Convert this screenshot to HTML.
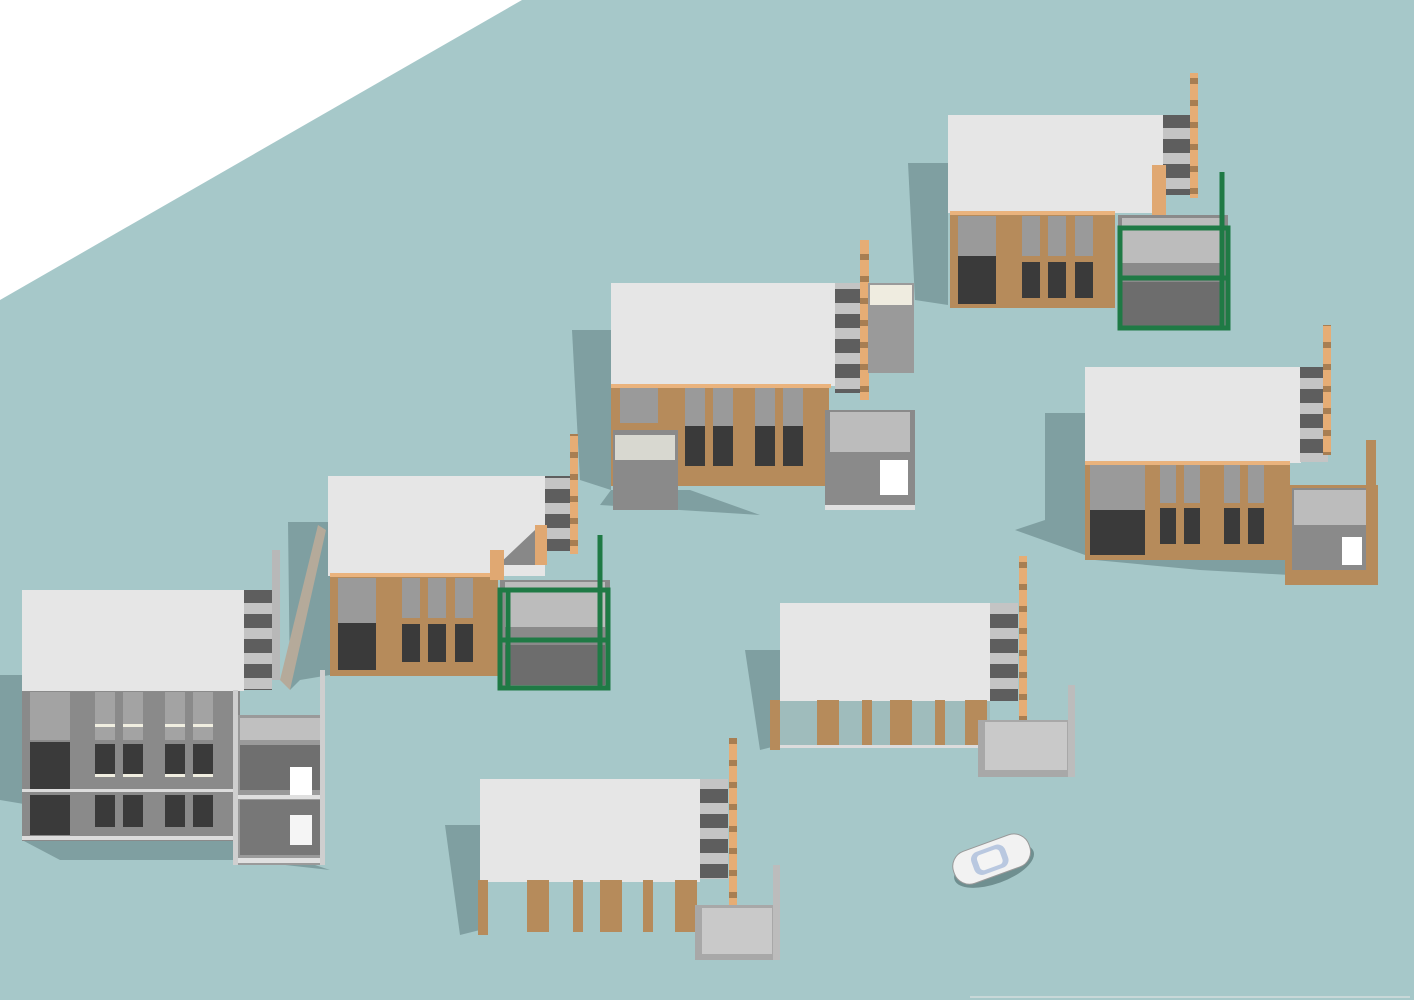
<!DOCTYPE html>
<html><head><meta charset="utf-8"><style>html,body{margin:0;padding:0;background:#a6c8c9}svg{display:block}</style></head><body>
<svg width="1414" height="1000" viewBox="0 0 1414 1000" xmlns="http://www.w3.org/2000/svg">
<defs>
<pattern id="st" width="30" height="25" patternUnits="userSpaceOnUse"><rect width="30" height="25" fill="#5e5e5e"/><rect y="3" width="30" height="11" fill="#c4c4c4"/></pattern>
<pattern id="ts" width="10" height="22" patternUnits="userSpaceOnUse"><rect width="10" height="22" fill="#e6ad75"/><rect y="12" width="10" height="6" fill="#a87e52"/></pattern>
</defs>
<rect width="1414" height="1000" fill="#a6c8c9"/>
<polygon points="0,0 522,0 0,300" fill="#ffffff"/>

<g fill="#7f9fa1">
<polygon points="0,675 22,675 22,840 60,860 240,860 330,870 240,840 0,800"/>
<polygon points="288,522 330,522 330,675 300,680 290,690"/>
<polygon points="572,330 611,330 611,490 580,480"/>
<polygon points="908,163 948,163 948,305 915,300"/>
<polygon points="1045,413 1085,413 1085,555 1015,530 1045,520"/>
<polygon points="745,650 780,650 780,745 760,750"/>
<polygon points="445,825 480,825 480,930 460,935"/>
<polygon points="600,505 680,510 760,515 690,490 611,490"/>
<polygon points="1095,560 1200,570 1290,575 1285,560"/>
</g>

<!-- B1 -->
<g>
<rect x="22" y="590" width="222" height="101" fill="#e6e6e6"/>
<rect x="22" y="691" width="218" height="150" fill="#8a8a8a"/>
<rect x="30" y="692" width="40" height="48" fill="#a3a3a3"/>
<rect x="95" y="692" width="20" height="48" fill="#a3a3a3"/><rect x="123" y="692" width="20" height="48" fill="#a3a3a3"/>
<rect x="165" y="692" width="20" height="48" fill="#a3a3a3"/><rect x="193" y="692" width="20" height="48" fill="#a3a3a3"/>
<g fill="#3a3a3a">
<rect x="30" y="742" width="40" height="50"/><rect x="95" y="744" width="20" height="32"/><rect x="123" y="744" width="20" height="32"/><rect x="165" y="744" width="20" height="32"/><rect x="193" y="744" width="20" height="32"/>
<rect x="30" y="795" width="40" height="40"/><rect x="95" y="795" width="20" height="32"/><rect x="123" y="795" width="20" height="32"/><rect x="165" y="795" width="20" height="32"/><rect x="193" y="795" width="20" height="32"/>
</g>
<g fill="#f0eee0"><rect x="95" y="724" width="20" height="3"/><rect x="123" y="724" width="20" height="3"/><rect x="165" y="724" width="20" height="3"/><rect x="193" y="724" width="20" height="3"/>
<rect x="95" y="774" width="20" height="3"/><rect x="123" y="774" width="20" height="3"/><rect x="165" y="774" width="20" height="3"/><rect x="193" y="774" width="20" height="3"/>
<rect x="22" y="789" width="220" height="3" fill="#dcdcdc"/><rect x="22" y="836" width="220" height="4" fill="#dcdcdc"/></g>
<rect x="244" y="590" width="28" height="100" fill="url(#st)"/>
<rect x="272" y="550" width="8" height="130" fill="#b8b8b8"/>
<polygon points="280,680 318,525 326,530 290,690" fill="#b5aa9a"/>
<rect x="235" y="715" width="90" height="150" fill="#9a9a9a"/>
<rect x="240" y="718" width="80" height="22" fill="#c0c0c0"/>
<rect x="240" y="745" width="80" height="45" fill="#6f6f6f"/>
<rect x="240" y="800" width="80" height="55" fill="#777"/>
<rect x="290" y="767" width="22" height="30" fill="#ffffff"/>
<rect x="290" y="815" width="22" height="30" fill="#f5f5f5"/>
<rect x="235" y="795" width="90" height="4" fill="#e0e0e0"/><rect x="235" y="858" width="90" height="5" fill="#e0e0e0"/>
<rect x="233" y="690" width="5" height="175" fill="#cfcfcf"/><rect x="320" y="670" width="5" height="195" fill="#cfcfcf"/>
</g>

<!-- B2 -->
<g>
<rect x="328" y="476" width="217" height="100" fill="#e6e6e6"/>
<rect x="330" y="576" width="168" height="100" fill="#b68b5b"/>
<rect x="330" y="573" width="168" height="4" fill="#eab37d"/>
<rect x="338" y="578" width="38" height="92" fill="#3a3a3a"/><rect x="338" y="578" width="38" height="45" fill="#9a9a9a"/>
<g fill="#3a3a3a"><rect x="402" y="624" width="18" height="38"/><rect x="428" y="624" width="18" height="38"/><rect x="455" y="624" width="18" height="38"/></g>
<g fill="#9a9a9a"><rect x="402" y="578" width="18" height="40"/><rect x="428" y="578" width="18" height="40"/><rect x="455" y="578" width="18" height="40"/></g>
<rect x="545" y="476" width="30" height="75" fill="url(#st)"/>
<rect x="570" y="434" width="8" height="120" fill="url(#ts)"/>
<polygon points="498,565 535,530 545,530 545,565" fill="#888"/>
<rect x="490" y="550" width="14" height="30" fill="#e0a872"/>
<rect x="535" y="525" width="12" height="40" fill="#e0a872"/>
<rect x="500" y="580" width="110" height="110" fill="#8a8a8a"/>
<rect x="505" y="582" width="100" height="45" fill="#bcbcbc"/>
<rect x="505" y="645" width="100" height="40" fill="#6d6d6d"/>
<g fill="none" stroke="#1f7a45" stroke-width="5"><rect x="500" y="590" width="108" height="98"/><line x1="500" y1="640" x2="608" y2="640"/><line x1="508" y1="590" x2="508" y2="688"/><line x1="600" y1="535" x2="600" y2="688"/></g>
</g>

<!-- B3 -->
<g>
<rect x="611" y="283" width="224" height="103" fill="#e6e6e6"/>
<rect x="611" y="386" width="218" height="100" fill="#b68b5b"/>
<rect x="611" y="384" width="220" height="4" fill="#eab37d"/>
<g fill="#9a9a9a"><rect x="620" y="388" width="38" height="35"/><rect x="685" y="388" width="20" height="38"/><rect x="713" y="388" width="20" height="38"/><rect x="755" y="388" width="20" height="38"/><rect x="783" y="388" width="20" height="38"/></g>
<g fill="#3a3a3a"><rect x="685" y="426" width="20" height="40"/><rect x="713" y="426" width="20" height="40"/><rect x="755" y="426" width="20" height="40"/><rect x="783" y="426" width="20" height="40"/></g>
<rect x="613" y="430" width="65" height="80" fill="#8a8a8a"/><rect x="615" y="435" width="60" height="25" fill="#d8d8d0"/>
<rect x="835" y="283" width="30" height="110" fill="url(#st)"/>
<rect x="860" y="240" width="9" height="160" fill="url(#ts)"/>
<rect x="868" y="283" width="46" height="90" fill="#9a9a9a"/><rect x="870" y="285" width="42" height="20" fill="#efece0"/>
<rect x="825" y="410" width="90" height="100" fill="#8a8a8a"/>
<rect x="830" y="412" width="80" height="40" fill="#bcbcbc"/>
<rect x="880" y="460" width="28" height="35" fill="#ffffff"/>
<rect x="825" y="505" width="90" height="5" fill="#e0e0e0"/>
</g>

<!-- B4 -->
<g>
<rect x="948" y="115" width="215" height="98" fill="#e6e6e6"/>
<rect x="950" y="213" width="165" height="95" fill="#b68b5b"/>
<rect x="950" y="211" width="165" height="4" fill="#eab37d"/>
<rect x="958" y="216" width="38" height="88" fill="#3a3a3a"/><rect x="958" y="216" width="38" height="40" fill="#9a9a9a"/>
<g fill="#9a9a9a"><rect x="1022" y="216" width="18" height="40"/><rect x="1048" y="216" width="18" height="40"/><rect x="1075" y="216" width="18" height="40"/></g>
<g fill="#3a3a3a"><rect x="1022" y="262" width="18" height="36"/><rect x="1048" y="262" width="18" height="36"/><rect x="1075" y="262" width="18" height="36"/></g>
<rect x="1163" y="115" width="28" height="80" fill="url(#st)"/>
<rect x="1190" y="73" width="8" height="125" fill="url(#ts)"/>
<rect x="1152" y="165" width="14" height="50" fill="#e0a872"/>
<rect x="1118" y="215" width="110" height="115" fill="#8a8a8a"/>
<rect x="1122" y="218" width="100" height="45" fill="#bcbcbc"/>
<rect x="1122" y="282" width="100" height="45" fill="#6d6d6d"/>
<g fill="none" stroke="#1f7a45" stroke-width="5"><rect x="1120" y="228" width="108" height="100"/><line x1="1120" y1="278" x2="1228" y2="278"/><line x1="1222" y1="172" x2="1222" y2="328"/></g>
</g>

<!-- B5 -->
<g>
<rect x="1085" y="367" width="216" height="96" fill="#e6e6e6"/>
<rect x="1085" y="463" width="205" height="97" fill="#b68b5b"/>
<rect x="1085" y="461" width="205" height="4" fill="#eab37d"/>
<rect x="1090" y="465" width="55" height="90" fill="#3a3a3a"/><rect x="1090" y="465" width="55" height="45" fill="#9a9a9a"/>
<g fill="#9a9a9a"><rect x="1160" y="465" width="16" height="38"/><rect x="1184" y="465" width="16" height="38"/><rect x="1224" y="465" width="16" height="38"/><rect x="1248" y="465" width="16" height="38"/></g>
<g fill="#3a3a3a"><rect x="1160" y="508" width="16" height="36"/><rect x="1184" y="508" width="16" height="36"/><rect x="1224" y="508" width="16" height="36"/><rect x="1248" y="508" width="16" height="36"/></g>
<rect x="1300" y="367" width="28" height="95" fill="url(#st)"/>
<rect x="1323" y="325" width="8" height="130" fill="url(#ts)"/>
<rect x="1285" y="485" width="93" height="100" fill="#b68b5b"/>
<rect x="1292" y="488" width="78" height="82" fill="#8a8a8a"/><rect x="1294" y="490" width="74" height="35" fill="#bcbcbc"/>
<rect x="1342" y="537" width="20" height="28" fill="#ffffff"/>
<rect x="1366" y="440" width="10" height="145" fill="#b68b5b"/>
</g>

<!-- B6 -->
<g>
<rect x="780" y="603" width="226" height="98" fill="#e6e6e6"/>
<rect x="780" y="701" width="210" height="45" fill="#9fbcbc"/>
<g fill="#b68b5b"><rect x="770" y="700" width="10" height="50"/><rect x="817" y="700" width="22" height="48"/><rect x="862" y="700" width="10" height="48"/><rect x="890" y="700" width="22" height="48"/><rect x="935" y="700" width="10" height="48"/><rect x="965" y="700" width="22" height="48"/></g>
<rect x="780" y="745" width="200" height="3" fill="#dcdcdc"/>
<rect x="990" y="603" width="28" height="98" fill="url(#st)"/>
<rect x="1019" y="556" width="8" height="170" fill="url(#ts)"/>
<rect x="978" y="720" width="97" height="57" fill="#a8a8a8"/>
<rect x="985" y="722" width="82" height="48" fill="#c9c9c9"/>
<rect x="1068" y="685" width="7" height="92" fill="#bcbcbc"/>
</g>

<!-- B7 -->
<g>
<rect x="480" y="779" width="220" height="103" fill="#e6e6e6"/>
<g fill="#b68b5b"><rect x="478" y="880" width="10" height="55"/><rect x="527" y="880" width="22" height="52"/><rect x="573" y="880" width="10" height="52"/><rect x="600" y="880" width="22" height="52"/><rect x="643" y="880" width="10" height="52"/><rect x="675" y="880" width="22" height="52"/></g>
<rect x="700" y="779" width="28" height="100" fill="url(#st)"/>
<rect x="729" y="738" width="8" height="170" fill="url(#ts)"/>
<rect x="695" y="905" width="85" height="55" fill="#a8a8a8"/>
<rect x="702" y="908" width="70" height="46" fill="#c9c9c9"/>
<rect x="773" y="865" width="7" height="95" fill="#bcbcbc"/>
</g>

<!-- car -->
<g transform="rotate(-20 992 860)">
<ellipse cx="992" cy="866" rx="42" ry="18" fill="#6f8f90"/>
<rect x="952" y="842" width="80" height="34" rx="16" fill="#f2f2f2" stroke="#999"/>
<rect x="972" y="847" width="36" height="24" rx="8" fill="#b9c8e0"/>
<rect x="978" y="851" width="24" height="16" rx="4" fill="#f4f4f4"/>
</g>
<rect x="970" y="996" width="440" height="2" fill="#c8d8d8"/>
</svg>
</body></html>
